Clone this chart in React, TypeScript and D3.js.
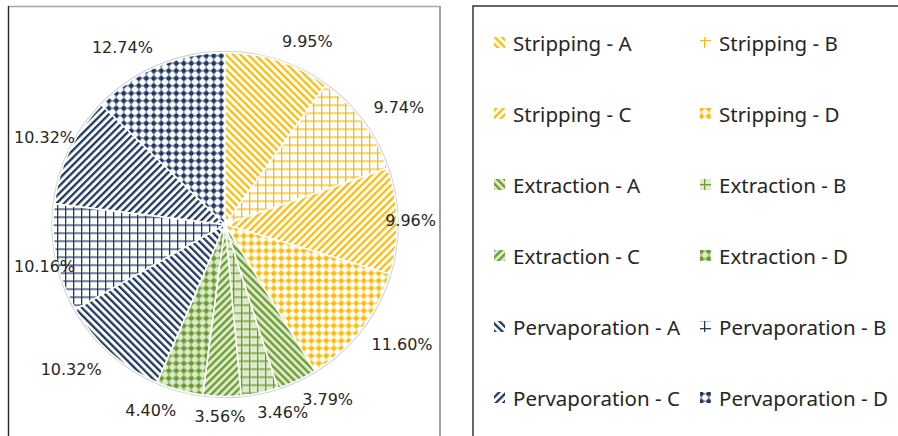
import React from 'react';
import * as d3 from 'd3';

// Chart data
const categories = [
  'Stripping - A', 'Stripping - B', 'Stripping - C', 'Stripping - D',
  'Extraction - A', 'Extraction - B', 'Extraction - C', 'Extraction - D',
  'Pervaporation - A', 'Pervaporation - B', 'Pervaporation - C', 'Pervaporation - D',
];
const values = [9.95, 9.74, 9.96, 11.6, 3.79, 3.46, 3.56, 4.4, 10.32, 10.16, 10.32, 12.74];
const groups = ['Stripping', 'Extraction', 'Pervaporation'];
const variants = ['A', 'B', 'C', 'D'];

const groupColor: Record<string, string> = {
  Stripping: '#FDBB0A',
  Extraction: '#6C9A33',
  Pervaporation: '#1F3864',
};
const groupBg: Record<string, string> = {
  Stripping: '#ffffff',
  Extraction: '#DCEBC9',
  Pervaporation: '#ffffff',
};

const W = 898;
const H = 436;
const cx = 225;
const cy = 224.5;
const R = 172;
const LABEL_FONT = 16;
const LABEL_H = 12;

// rough DejaVu Sans advance widths
const textWidth = (s: string) =>
  s.split('').reduce((w, ch) => w + (ch === '.' ? 0.318 : ch === '%' ? 0.95 : 0.636), 0) * LABEL_FONT;

function PatternDef({ id, type, color, bg }: { id: string; type: string; color: string; bg: string }) {
  if (type === 'A' || type === 'C') {
    return (
      <pattern id={id} width={5.2} height={5.2} patternUnits="userSpaceOnUse"
        patternTransform={`rotate(${type === 'A' ? -45 : 45})`}>
        <rect width={5.2} height={5.2} fill={bg} />
        <rect x={0} y={0} width={2.3} height={5.2} fill={color} />
      </pattern>
    );
  }
  if (type === 'B') {
    return (
      <pattern id={id} width={8} height={8} patternUnits="userSpaceOnUse">
        <rect width={8} height={8} fill={bg} />
        <rect x={0} y={0} width={1.3} height={8} fill={color} />
        <rect x={0} y={0} width={8} height={1.3} fill={color} />
      </pattern>
    );
  }
  return (
    <pattern id={id} width={7.5} height={7.5} patternUnits="userSpaceOnUse">
      <rect width={7.5} height={7.5} fill={bg} />
      <rect x={3.3} y={0} width={0.9} height={7.5} fill={color} />
      <rect x={0} y={3.3} width={7.5} height={0.9} fill={color} />
      <circle cx={3.75} cy={3.75} r={2.4} fill={color} />
    </pattern>
  );
}

function layoutLabels(arcs: d3.PieArcDatum<number>[]) {
  const clamp = (v: number) => Math.max(-1, Math.min(1, v));
  const anchorR = R + 13;
  const labels = arcs.map((a, i) => {
    const text = `${values[i].toFixed(2)}%`;
    const w = textWidth(text);
    const t = (a.startAngle + a.endAngle) / 2;
    const s = Math.sin(t);
    const c = -Math.cos(t);
    let x = anchorR * s + (w / 2) * clamp(s * 4);
    const y = anchorR * c + (LABEL_H / 2 + 1) * clamp(c * 4);
    // keep inside the chart panel
    x = Math.max(14 - cx + w / 2, Math.min(436 - cx - w / 2, x));
    return { text, w, x, y };
  });
  // push overlapping labels apart sideways
  for (let k = 0; k < 60; k++) {
    for (let i = 0; i < labels.length; i++) {
      for (let j = i + 1; j < labels.length; j++) {
        const a = labels[i];
        const b = labels[j];
        const ox = (a.w + b.w) / 2 + 2 - Math.abs(a.x - b.x);
        const oy = LABEL_H + 1 - Math.abs(a.y - b.y);
        if (ox > 0 && oy > 0) {
          const dir = a.x < b.x ? -1 : 1;
          a.x += (dir * ox) / 2;
          b.x -= (dir * ox) / 2;
        }
      }
    }
  }
  return labels;
}

export default function App() {
  const pie = d3.pie<number>().value((d) => d).sort(null);
  const arcs = pie(values);
  const arc = d3.arc<d3.PieArcDatum<number>>().innerRadius(0).outerRadius(R);
  const labels = layoutLabels(arcs);

  const patId = (i: number) => `pat-${i}`;
  const groupOf = (i: number) => groups[Math.floor(i / 4)];
  const variantOf = (i: number) => variants[i % 4];

  const legendRows = d3.scaleBand<number>().domain(d3.range(6)).range([7.5, 433.5]);
  const legendCols = [494, 700];

  return (
    <svg width={W} height={H} style={{ position: 'absolute', left: 0, top: 0, background: '#fff' }}>
      <defs>
        {categories.map((c, i) => (
          <PatternDef key={c} id={patId(i)} type={variantOf(i)}
            color={groupColor[groupOf(i)]} bg={groupBg[groupOf(i)]} />
        ))}
      </defs>

      {/* chart panel frame */}
      <line x1={8} y1={6.5} x2={440} y2={6.5} stroke="#a6a6a6" strokeWidth={1.5} />
      <line x1={8.5} y1={6} x2={8.5} y2={H} stroke="#262626" strokeWidth={1.4} />
      <line x1={440} y1={6} x2={440} y2={H} stroke="#a0a0a0" strokeWidth={2} />

      {/* pie */}
      <g transform={`translate(${cx},${cy})`}>
        <circle r={R + 1} fill="none" stroke="#d0d0d0" strokeWidth={1.5} />
        {arcs.map((a, i) => (
          <path key={categories[i]} d={arc(a) || ''} fill={`url(#${patId(i)})`}
            stroke="#ffffff" strokeWidth={1.5} />
        ))}
        {labels.map((l, i) => (
          <text key={`l-${i}`} x={l.x} y={l.y} dy="0.36em" textAnchor="middle"
            fontFamily="DejaVu Sans" fontSize={LABEL_FONT} fill="#262626">
            {l.text}
          </text>
        ))}
      </g>

      {/* legend panel */}
      <line x1={473} y1={6} x2={W} y2={6} stroke="#333" strokeWidth={1.6} />
      <line x1={473} y1={5.2} x2={473} y2={H} stroke="#404040" strokeWidth={1.6} />
      {categories.map((c, i) => {
        const row = Math.floor(i / 2);
        const col = i % 2;
        const yc = (legendRows(row) as number) + legendRows.bandwidth() / 2;
        const x0 = legendCols[col];
        return (
          <g key={`lg-${c}`}>
            <rect x={x0} y={yc - 6} width={11} height={11} fill={`url(#${patId(i)})`} />
            <text x={x0 + 19} y={yc + 7.5} fontFamily="Noto Sans" fontSize={20.5} fill="#262626">
              {c}
            </text>
          </g>
        );
      })}
    </svg>
  );
}
